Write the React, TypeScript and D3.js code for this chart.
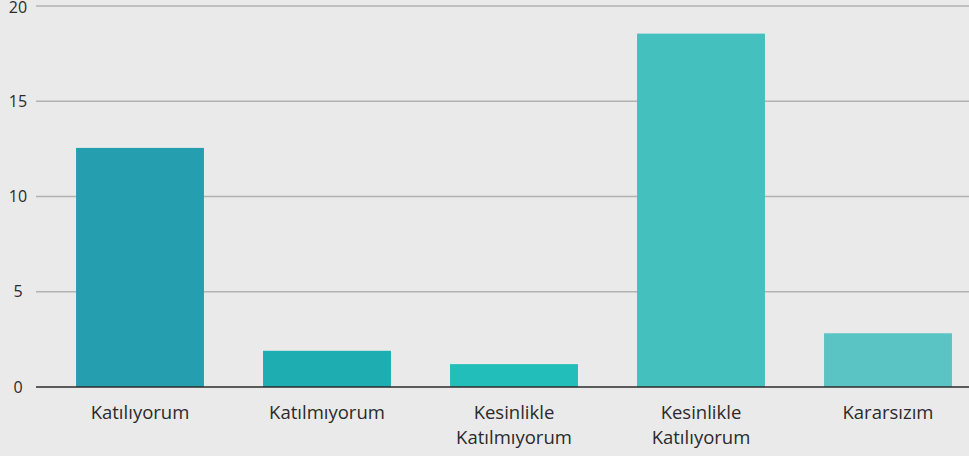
import React from 'react';
import * as d3 from 'd3';

const categories: string[][] = [
  ['Katılıyorum'],
  ['Katılmıyorum'],
  ['Kesinlikle', 'Katılmıyorum'],
  ['Kesinlikle', 'Katılıyorum'],
  ['Kararsızım'],
];
const values: number[] = [12.55, 1.9, 1.2, 18.55, 2.82];
const barColors: string[] = ['#259fb0', '#1eadb1', '#22beb9', '#44c1bf', '#5ac4c5'];
const yTicks: number[] = [0, 5, 10, 15, 20];

const width = 969;
const height = 456;
const fontFamily = '"Open Sans", Lato, sans-serif';

const App: React.FC = () => {
  const keys = categories.map(c => c.join(' '));

  const x = d3.scaleBand<string>()
    .domain(keys)
    .range([46.5, 981.5])
    .paddingInner(0.316)
    .paddingOuter(0.158);

  const y = d3.scaleLinear()
    .domain([0, 20])
    .range([387, 6]);

  return (
    <svg width={width} height={height} style={{ position: 'fixed', left: 0, top: 0, background: '#e9eae9' }}>
      <rect width={width} height={height} fill="#e9eae9" />
      {yTicks.filter(t => t > 0).map(t => (
        <line key={t} x1={36} x2={width} y1={y(t)} y2={y(t)} stroke="#b1b2b1" strokeWidth={1.5} />
      ))}
      {yTicks.map(t => (
        <text key={t} x={18} y={y(t)} dy={t === 20 ? '0.42em' : '0.35em'} textAnchor="middle" fontSize={16} fill="#2b2b2b" fontFamily={fontFamily}>
          {t}
        </text>
      ))}
      {values.map((v, i) => (
        <rect
          key={keys[i]}
          x={x(keys[i])}
          y={y(v)}
          width={x.bandwidth()}
          height={y(0) - y(v)}
          fill={barColors[i]}
        />
      ))}
      <line x1={36} x2={width} y1={y(0)} y2={y(0)} stroke="#2b2b2b" strokeWidth={1.5} />
      {categories.map((lines, i) => (
        <text key={keys[i]} textAnchor="middle" fontSize={18.5} fill="#2b2b2b" fontFamily={fontFamily}>
          {lines.map((l, j) => (
            <tspan key={j} x={(x(keys[i]) || 0) + x.bandwidth() / 2} y={419 + j * 25}>{l}</tspan>
          ))}
        </text>
      ))}
    </svg>
  );
};

export default App;
